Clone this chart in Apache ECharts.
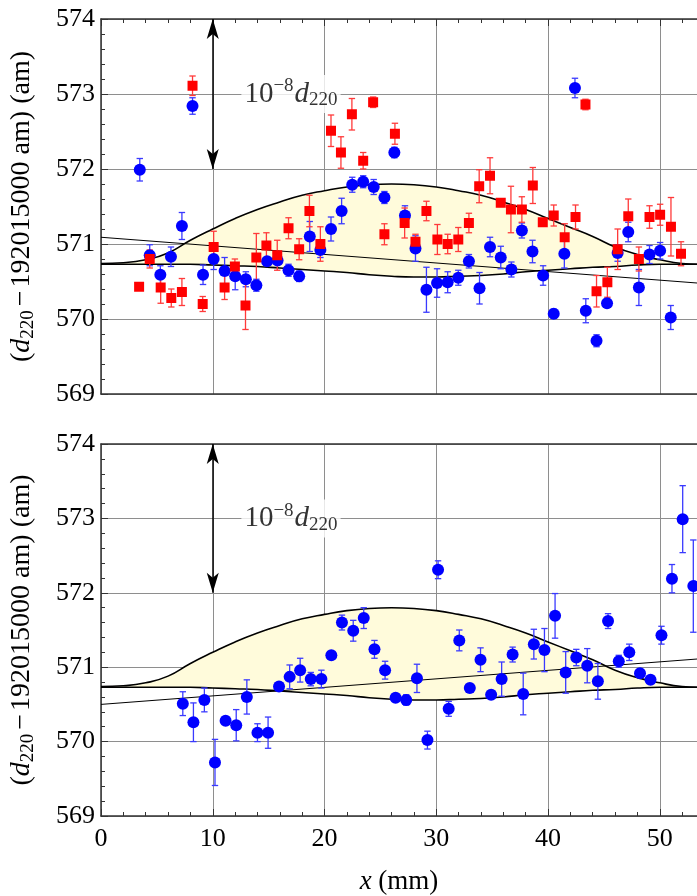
<!DOCTYPE html>
<html><head><meta charset="utf-8">
<script src="https://cdn.jsdelivr.net/npm/echarts@6/dist/echarts.min.js"></script>
<style>html,body{margin:0;padding:0;background:#fff}#c{width:697px;height:896px}</style>
</head><body><div id="c"></div>
<script>
// ---------- data ----------
const topBlueX = [3.47,4.36,5.31,6.26,7.24,8.19,9.13,10.08,11.06,12.01,12.96,13.90,14.86,15.80,16.78,17.73,18.68,19.63,20.58,21.53,22.48,23.46,24.40,25.36,26.25,27.20,28.14,29.12,30.07,31.02,31.97,32.92,33.87,34.81,35.77,36.72,37.66,38.61,39.56,40.51,41.46,42.41,43.38,44.34,45.28,46.23,47.18,48.13,49.08,50.03,50.98];
const topBlueY = [571.99,570.85,570.59,570.83,571.24,572.84,570.59,570.80,570.64,570.57,570.53,570.45,570.77,570.78,570.65,570.57,571.10,570.92,571.20,571.44,571.79,571.83,571.76,571.62,572.22,571.38,570.94,570.39,570.48,570.49,570.55,570.77,570.41,570.96,570.82,570.66,571.18,570.90,570.58,570.07,570.87,573.08,570.11,569.71,570.21,570.88,571.16,570.42,570.86,570.91,570.02];
const topBlueErr = [0.15,0.14,0.12,0.13,0.18,0.11,0.13,0.14,0.18,0.18,0.10,0.08,0.05,0.05,0.08,0.07,0.20,0.10,0.16,0.17,0.10,0.08,0.10,0.08,0.07,0.13,0.17,0.30,0.19,0.14,0.10,0.09,0.21,0.13,0.15,0.10,0.10,0.15,0.13,0.06,0.19,0.13,0.16,0.08,0.04,0.11,0.13,0.24,0.12,0.11,0.16];

const topRedX = [3.41,4.36,5.34,6.29,7.24,8.19,9.10,10.08,11.06,11.98,12.93,13.90,14.80,15.77,16.78,17.73,18.65,19.63,20.58,21.47,22.45,23.46,24.35,25.36,26.30,27.17,28.14,29.12,30.10,31.02,31.97,32.92,33.84,34.81,35.77,36.68,37.66,38.64,39.53,40.51,41.49,42.46,43.35,44.34,45.31,46.23,47.18,48.13,49.08,50.03,51.00,51.90];
const topRedY = [570.43,570.80,570.42,570.28,570.36,573.11,570.20,570.96,570.42,570.70,570.18,570.82,570.98,570.85,571.21,570.93,571.44,571.00,572.51,572.22,572.73,572.11,572.89,571.13,572.47,571.28,571.03,571.44,571.06,571.00,571.06,571.28,571.77,571.91,571.55,571.46,571.46,571.78,571.29,571.38,571.09,571.36,572.86,570.37,570.49,570.93,571.37,570.80,571.36,571.39,571.23,570.87];
const topRedErr = [0.03,0.12,0.21,0.12,0.18,0.13,0.10,0.21,0.16,0.10,0.32,0.32,0.17,0.20,0.14,0.14,0.21,0.23,0.21,0.21,0.21,0.11,0.07,0.14,0.14,0.20,0.10,0.13,0.20,0.13,0.16,0.13,0.22,0.24,0.05,0.31,0.17,0.24,0.04,0.14,0.18,0.16,0.07,0.21,0.20,0.27,0.23,0.16,0.15,0.14,0.39,0.16];

const botBlueX = [7.32,8.27,9.25,10.20,11.15,12.10,13.05,14.00,14.95,15.93,16.88,17.82,18.77,19.72,20.61,21.56,22.57,23.51,24.47,25.42,26.36,27.31,28.27,29.21,30.16,31.11,32.06,33.00,33.96,34.91,35.85,36.83,37.78,38.73,39.68,40.63,41.58,42.53,43.51,44.46,45.37,46.33,47.27,48.23,49.17,50.15,51.09,52.05,53.00];
const botBlueY = [570.51,570.26,570.56,569.72,570.28,570.22,570.60,570.12,570.12,570.74,570.87,570.96,570.84,570.84,571.16,571.60,571.49,571.66,571.24,570.96,570.59,570.56,570.85,570.02,572.31,570.44,571.36,570.72,571.10,570.63,570.84,571.17,570.64,571.31,571.23,571.69,570.93,571.13,571.02,570.81,571.62,571.08,571.20,570.92,570.83,571.43,572.19,572.99,572.09];
const botBlueErr = [0.16,0.26,0.16,0.31,0.04,0.21,0.23,0.12,0.21,0.03,0.16,0.16,0.09,0.12,0.03,0.10,0.14,0.14,0.12,0.12,0.03,0.07,0.19,0.12,0.12,0.10,0.14,0.03,0.16,0.05,0.23,0.10,0.28,0.20,0.29,0.30,0.28,0.11,0.23,0.24,0.10,0.08,0.11,0.03,0.03,0.12,0.19,0.45,0.62];

const bandX     = [0,2,4,6,8,10,12,14,16,18,20,22,24,26,28,30,32,34,36,38,40,42,44,46,48,50,52,53.33];
const bandUpper = [570.74,570.75,570.79,570.88,571.05,571.20,571.34,571.46,571.56,571.65,571.71,571.76,571.79,571.80,571.79,571.76,571.71,571.65,571.56,571.46,571.34,571.22,571.10,570.96,570.86,570.79,570.74,570.73];
const bandLower = [570.73,570.73,570.73,570.73,570.73,570.72,570.71,570.70,570.68,570.66,570.64,570.62,570.59,570.57,570.56,570.56,570.57,570.58,570.60,570.63,570.65,570.67,570.69,570.70,570.72,570.73,570.73,570.73];

const topFitX = [0, 53.33], topFitY = [571.09, 570.48];
const botFitX = [0, 53.33], botFitY = [570.50, 571.11];

const xTicks = {min: 0, max: 53.33, interval: 10};
const yTicks = {min: 569, max: 574, interval: 1};
const arrowX = 10, arrowTop = 574, arrowBottom = 572;
const noteX = 17, noteY = 573;

// ---------- helpers ----------
const FONT = 'Liberation Serif';
const zip = (a, b, c) => a.map((v, i) => c ? [v, b[i], c[i]] : [v, b[i]]);
const AX = '#333', GRID = '#8e8e8e';

function errRender(color) {
  return function (params, api) {
    const x = api.value(0), y = api.value(1), e = api.value(2);
    const t = api.coord([x, y + e]), b = api.coord([x, y - e]);
    const hw = 3.2, st = {stroke: color, lineWidth: 1.3};
    return {type: 'group', children: [
      {type: 'line', shape: {x1: t[0], y1: t[1], x2: b[0], y2: b[1]}, style: st},
      {type: 'line', shape: {x1: t[0] - hw, y1: t[1], x2: t[0] + hw, y2: t[1]}, style: st},
      {type: 'line', shape: {x1: b[0] - hw, y1: b[1], x2: b[0] + hw, y2: b[1]}, style: st}
    ]};
  };
}

function bandRender(params, api) {
  if (params.dataIndex !== 0) return null;
  const up = bandX.map((x, i) => api.coord([x, bandUpper[i]]));
  const lo = bandX.map((x, i) => api.coord([x, bandLower[i]])).reverse();
  return {type: 'group', children: [
    {type: 'polyline', shape: {points: up.concat(lo), smooth: 0.35},
     style: {fill: '#fffbdb', stroke: null, lineWidth: 0}}
  ]};
}

function panelSeries(xi, yi, fitX, fitY, sets) {
  const s = [];
  s.push({type: 'custom', xAxisIndex: xi, yAxisIndex: yi,
    data: bandX.map((x, i) => [x, bandUpper[i], bandLower[i]]), encode: {x: 0, y: 1},
    renderItem: bandRender, z: 1, silent: true});
  s.push({type: 'line', xAxisIndex: xi, yAxisIndex: yi, data: zip(bandX, bandLower),
    symbol: 'none', smooth: true, lineStyle: {color: '#000', width: 1.6}, z: 2, silent: true});
  s.push({type: 'line', xAxisIndex: xi, yAxisIndex: yi, data: zip(bandX, bandUpper),
    symbol: 'none', smooth: true, lineStyle: {color: '#000', width: 1.6}, z: 2, silent: true});
  s.push({type: 'line', xAxisIndex: xi, yAxisIndex: yi, data: zip(fitX, fitY), symbol: 'none',
    lineStyle: {color: '#000', width: 1}, z: 3, silent: true});
  sets.forEach(d => {
    s.push({type: 'custom', xAxisIndex: xi, yAxisIndex: yi, data: zip(d.x, d.y, d.e),
      encode: {x: 0, y: 1}, renderItem: errRender(d.errColor), z: 4, silent: true});
    s.push({type: 'scatter', xAxisIndex: xi, yAxisIndex: yi, data: zip(d.x, d.y), symbol: d.symbol,
      symbolSize: d.size, itemStyle: {color: d.color, opacity: 1}, z: 5, silent: true});
  });
  s.push({type: 'scatter', xAxisIndex: xi, yAxisIndex: yi, data: [[noteX, noteY]], symbolSize: 1,
    itemStyle: {color: 'rgba(0,0,0,0)'}, z: 6, silent: true,
    label: {show: true, position: 'inside', formatter: '{n|10}{sp|−8}{i|d}{sb|220}',
      backgroundColor: '#fff', padding: [2, 3, 2, 3],
      rich: {
        n: {fontFamily: FONT, fontSize: 29, color: '#000'},
        sp: {fontFamily: FONT, fontSize: 19, color: '#000', padding: [0, 1, 15, 0]},
        i: {fontFamily: FONT, fontSize: 29, fontStyle: 'italic', color: '#000'},
        sb: {fontFamily: FONT, fontSize: 19, color: '#000', padding: [13, 0, 0, 0]}
      }},
    markLine: {silent: true, symbol: ['arrow', 'arrow'], symbolSize: [9, 20],
      lineStyle: {color: '#000', width: 1.5, type: 'solid'}, label: {show: false},
      data: [[{coord: [arrowX, arrowTop]}, {coord: [arrowX, arrowBottom]}]]}
  });
  return s;
}

const yName = '{p|(}{i|d}{s|220}{m|−}{p|192015000 am) (am)}';
const yRich = {
  p: {fontFamily: FONT, fontSize: 28, color: '#000'},
  i: {fontFamily: FONT, fontSize: 28, fontStyle: 'italic', color: '#000'},
  s: {fontFamily: FONT, fontSize: 19, color: '#000', padding: [13, 1, 0, 0]},
  m: {fontFamily: FONT, fontSize: 28, color: '#000', padding: [0, 3, 0, 3]}
};

function yAxisCfg(gi) {
  return {type: 'value', gridIndex: gi, min: yTicks.min, max: yTicks.max, interval: yTicks.interval,
    axisLine: {show: true, lineStyle: {color: AX, width: 1.5}},
    axisTick: {show: true, inside: true, length: 7, lineStyle: {color: AX, width: 1}},
    minorTick: {show: true, splitNumber: 5, length: 4, lineStyle: {color: AX, width: 1}},
    axisLabel: {show: true, fontFamily: FONT, fontSize: 26, color: '#000', margin: 6},
    splitLine: {show: true, lineStyle: {color: GRID, width: 1}},
    name: yName, nameLocation: 'middle', nameGap: 63, nameRotate: 90,
    nameTextStyle: {fontFamily: FONT, fontSize: 28, color: '#000', rich: yRich}};
}
function xAxisCfg(gi, pos, opts) {
  return Object.assign({type: 'value', gridIndex: gi, position: pos, min: xTicks.min, max: xTicks.max,
    interval: xTicks.interval,
    axisLine: {show: true, onZero: false, lineStyle: {color: AX, width: 1.5}},
    axisTick: {show: false}, minorTick: {show: false}, axisLabel: {show: false},
    splitLine: {show: false}}, opts);
}
const ticksOn = {
  axisTick: {show: true, inside: true, length: 7, lineStyle: {color: AX, width: 1}},
  minorTick: {show: true, splitNumber: 5, length: 4, lineStyle: {color: AX, width: 1}}
};

const option = {
  animation: false,
  backgroundColor: '#fff',
  grid: [
    {left: 97, top: 19, width: 600, height: 375},
    {left: 97, top: 444, width: 600, height: 375}
  ],
  xAxis: [
    xAxisCfg(0, 'bottom', {splitLine: {show: true, lineStyle: {color: GRID, width: 1}}}),
    xAxisCfg(0, 'top', ticksOn),
    xAxisCfg(1, 'bottom', Object.assign({}, ticksOn, {
      splitLine: {show: true, lineStyle: {color: GRID, width: 1}},
      axisLabel: {show: true, fontFamily: FONT, fontSize: 26, color: '#000', margin: 10, showMaxLabel: false},
      name: '{i|x} (mm)', nameLocation: 'middle', nameGap: 52,
      nameTextStyle: {fontFamily: FONT, fontSize: 27, color: '#000',
        rich: {i: {fontFamily: FONT, fontSize: 27, fontStyle: 'italic', color: '#000'}}}
    })),
    xAxisCfg(1, 'top', {})
  ],
  yAxis: [yAxisCfg(0), yAxisCfg(1)],
  series: [].concat(
    panelSeries(0, 0, topFitX, topFitY, [
      {x: topBlueX, y: topBlueY, e: topBlueErr, color: '#0000ff', errColor: '#3a3aff', symbol: 'circle', size: 12},
      {x: topRedX, y: topRedY, e: topRedErr, color: '#ff0000', errColor: '#ff3a3a', symbol: 'rect', size: 10}
    ]),
    panelSeries(2, 1, botFitX, botFitY, [
      {x: botBlueX, y: botBlueY, e: botBlueErr, color: '#0000ff', errColor: '#3a3aff', symbol: 'circle', size: 12}
    ])
  )
};
const chart = echarts.init(document.getElementById('c'), null, {renderer: 'canvas'});
chart.setOption(option);
</script></body></html>
